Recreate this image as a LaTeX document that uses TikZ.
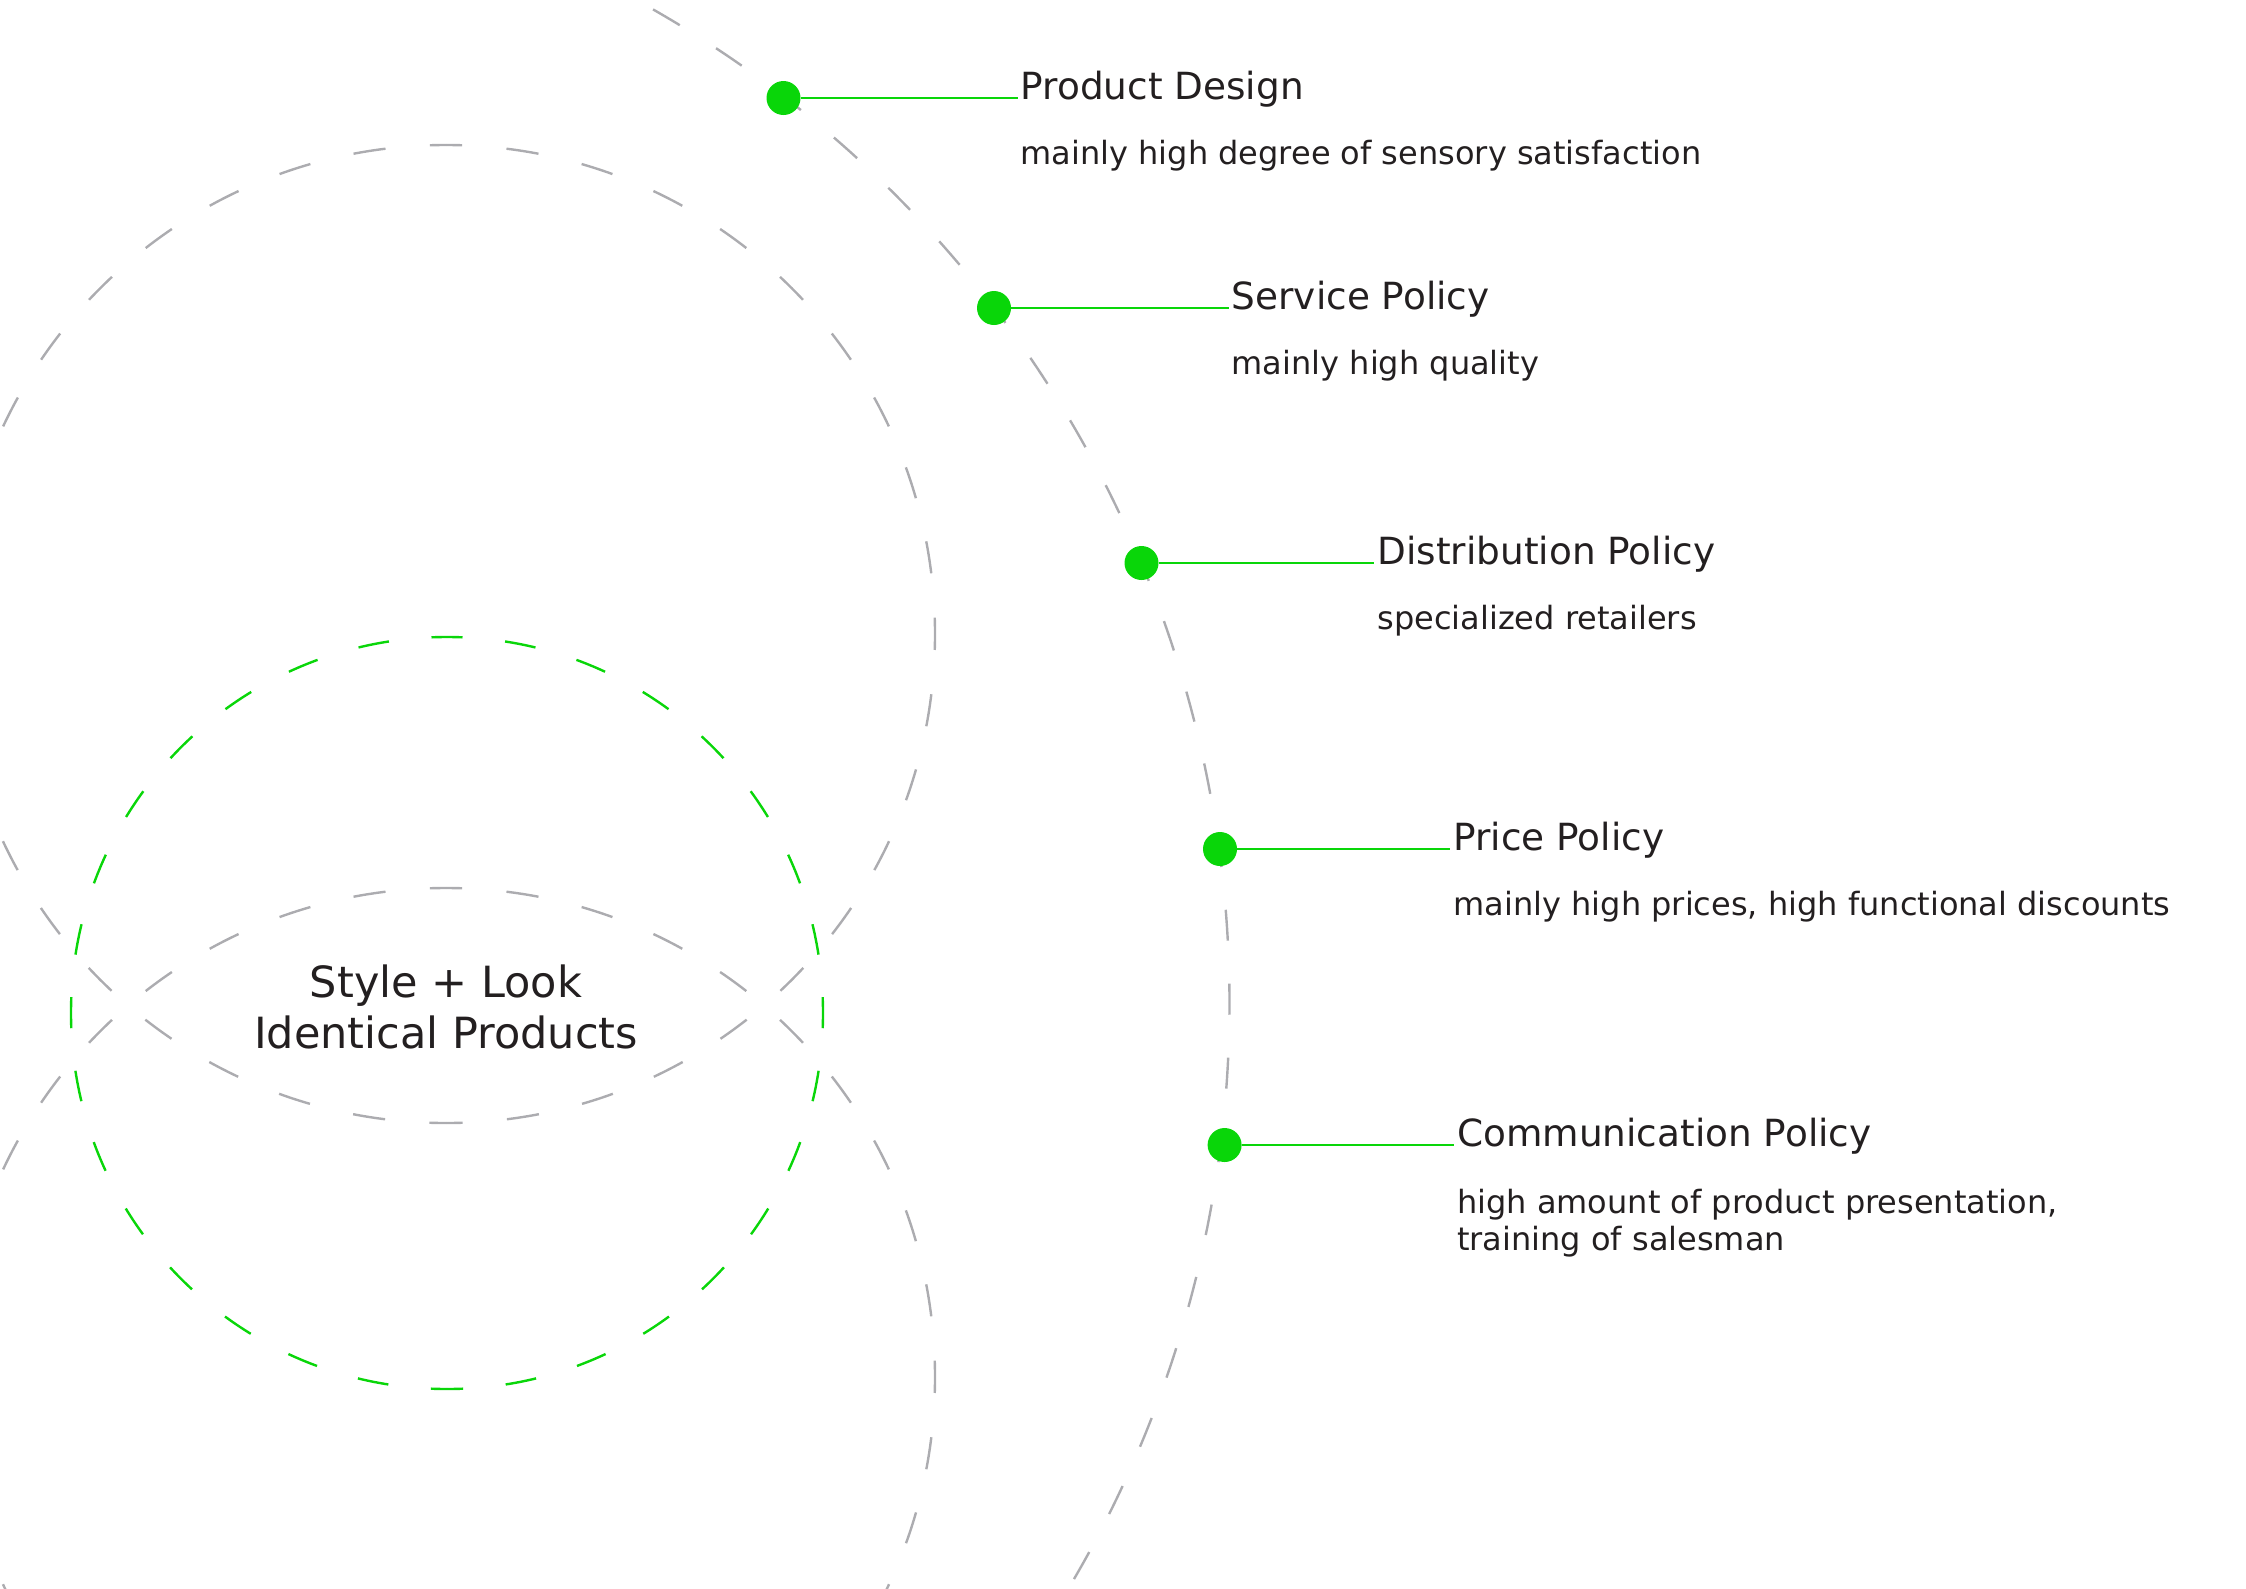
\documentclass[tikz,border=0pt]{standalone}
\usepackage{fontspec}
\setmainfont{DejaVu Sans}
\definecolor{lgreen}{RGB}{9,214,9}
\definecolor{lgray}{RGB}{172,172,176}
\definecolor{txt}{RGB}{35,31,32}
\begin{document}
\begin{tikzpicture}[x=1pt,y=-1pt,
  graydash/.style={draw=lgray,line width=2.4pt,dash pattern=on 32.4pt off 44.4pt},
  arcdash/.style={draw=lgray,line width=2.4pt,dash pattern=on 31pt off 43pt},
  greendash/.style={draw=lgreen,line width=2.4pt,dash pattern=on 31pt off 42.8pt},
  dot/.style={circle,fill=lgreen,draw=none,minimum size=34pt,inner sep=0pt},
  lnk/.style={draw=lgreen,line width=2.4pt},
  title/.style={anchor=base west,inner xsep=3pt,inner ysep=0pt,text=txt,font=\fontsize{37.4}{44}\selectfont},
  sub/.style={anchor=base west,inner xsep=3pt,inner ysep=0pt,text=txt,font=\fontsize{32}{37}\selectfont},
  center/.style={anchor=base,inner sep=0pt,text=txt,font=\fontsize{43}{51}\selectfont}]
\useasboundingbox (0,0) rectangle (2246,1588);
\begin{scope}
\clip (0,0) rectangle (2246,1588);
% upper gray circle
\draw[graydash,dash phase=16.2pt] (446,145) arc[start angle=90,end angle=-90,radius=489pt];
\draw[graydash,dash phase=16.2pt] (446,145) arc[start angle=90,end angle=270,radius=489pt];
% lower gray circle
\draw[graydash,dash phase=16.2pt] (446,888) arc[start angle=90,end angle=-90,radius=489pt];
\draw[graydash,dash phase=16.2pt] (446,888) arc[start angle=90,end angle=270,radius=489pt];
% green circle
\draw[greendash,dash phase=15.5pt] (447,637) arc[start angle=90,end angle=-90,radius=376pt];
\draw[greendash,dash phase=15.5pt] (447,637) arc[start angle=90,end angle=270,radius=376pt];
% big arc
\draw[arcdash,dash phase=52.5pt] (85,1003) ++(-35:1144.5pt) arc[start angle=-35,end angle=65,radius=1144.5pt];
\end{scope}
% centre text
\node[center] (ctr) at (446,997) {\vtop{\baselineskip=51pt\halign{\hfil#\hfil\cr Style + Look\cr Identical Products\cr}}};
% items
\node[dot] (d1) at (783.5,98) {};
\node[dot] (d2) at (994,308) {};
\node[dot] (d3) at (1141.5,563) {};
\node[dot] (d4) at (1220,849) {};
\node[dot] (d5) at (1224.6,1145) {};
\node[title] (t1) at (1017.5,99) {Product Design};
\node[title] (t2) at (1228.6,309) {Service Policy};
\node[title] (t3) at (1374.4,564) {Distribution Policy};
\node[title] (t4) at (1450.4,850) {Price Policy};
\node[title] (t5) at (1454,1146) {Communication Policy};
\node[sub] (s1) at (1017.5,164) {mainly high degree of sensory satisfaction};
\node[sub] (s2) at (1228.6,374) {mainly high quality};
\node[sub] (s3) at (1374.4,629) {specialized retailers};
\node[sub] (s4) at (1450.4,915) {mainly high prices, high functional discounts};
\node[sub] (s5) at (1454,1213) {\vtop{\baselineskip=37pt\hbox{high amount of product presentation,}\hbox{training of salesman}}};
\draw[lnk] (d1) -- (t1.base west |- d1);
\draw[lnk] (d2) -- (t2.base west |- d2);
\draw[lnk] (d3) -- (t3.base west |- d3);
\draw[lnk] (d4) -- (t4.base west |- d4);
\draw[lnk] (d5) -- (t5.base west |- d5);
\end{tikzpicture}
\end{document}
